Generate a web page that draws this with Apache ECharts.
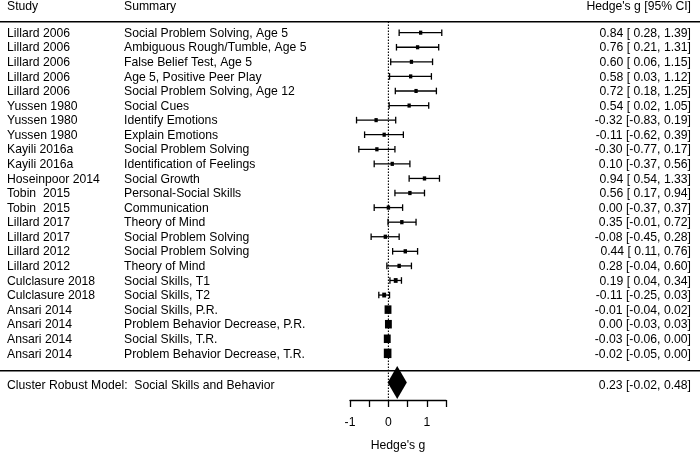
<!DOCTYPE html>
<html><head><meta charset="utf-8">
<script src="https://cdn.jsdelivr.net/npm/echarts@6/dist/echarts.min.js"></script>
<style>html,body{margin:0;padding:0;background:#fff}#c{width:700px;height:457px}</style>
</head><body><div id="c"></div>
<script>
const studies = ['Lillard 2006','Lillard 2006','Lillard 2006','Lillard 2006','Lillard 2006',
  'Yussen 1980','Yussen 1980','Yussen 1980','Kayili 2016a','Kayili 2016a','Hoseinpoor 2014',
  'Tobin  2015','Tobin  2015','Lillard 2017','Lillard 2017','Lillard 2012','Lillard 2012',
  'Culclasure 2018','Culclasure 2018','Ansari 2014','Ansari 2014','Ansari 2014','Ansari 2014'];
const outcomes = ['Social Problem Solving, Age 5','Ambiguous Rough/Tumble, Age 5','False Belief Test, Age 5',
  'Age 5, Positive Peer Play','Social Problem Solving, Age 12','Social Cues','Identify Emotions',
  'Explain Emotions','Social Problem Solving','Identification of Feelings','Social Growth',
  'Personal-Social Skills','Communication','Theory of Mind','Social Problem Solving',
  'Social Problem Solving','Theory of Mind','Social Skills, T1','Social Skills, T2',
  'Social Skills, P.R.','Problem Behavior Decrease, P.R.','Social Skills, T.R.','Problem Behavior Decrease, T.R.'];
const estimates = [0.84,0.76,0.60,0.58,0.72,0.54,-0.32,-0.11,-0.30,0.10,0.94,0.56,0.00,0.35,-0.08,0.44,0.28,0.19,-0.11,-0.01,0.00,-0.03,-0.02];
const lower = [0.28,0.21,0.06,0.03,0.18,0.02,-0.83,-0.62,-0.77,-0.37,0.54,0.17,-0.37,-0.01,-0.45,0.11,-0.04,0.04,-0.25,-0.04,-0.03,-0.06,-0.05];
const upper = [1.39,1.31,1.15,1.12,1.25,1.05,0.19,0.39,0.17,0.56,1.33,0.94,0.37,0.72,0.28,0.76,0.60,0.34,0.03,0.02,0.03,0.00,0.00];
const summaryLabel = 'Cluster Robust Model:  Social Skills and Behavior';
const summaryEstimate = [0.23];
const summaryLower = [-0.02];
const summaryUpper = [0.48];
const headers = ['Study', 'Summary', "Hedge's g [95% CI]"];
const axisTitle = "Hedge's g";

const FONT = "'Liberation Sans', Arial, Helvetica, sans-serif";
const TXT = {fontSize: 12.2, fontFamily: FONT, fill: '#000'};
function fmt(e, l, u) {
  return e.toFixed(2) + ' [' + (l < 0 ? '' : ' ') + l.toFixed(2) + ', ' + u.toFixed(2) + ']';
}
// point size from precision (as in metafor: 1/se, rescaled to 0.5..1.5)
const wi = lower.map((l, i) => 3.92 / Math.max(upper[i] - l, 0.01));
const wmin = Math.min(...wi), wmax = Math.max(...wi);
const psize = wi.map(w => 0.5 + (w - wmin) / (wmax - wmin));

const studyData = estimates.map((e, i) => [e, i + 1, lower[i], upper[i], psize[i], i]);
const SUMMARY_ROW = 25.13;

const chart = echarts.init(document.getElementById('c'), null, {renderer: 'canvas'});
chart.setOption({
  animation: false,
  backgroundColor: '#fff',
  grid: {left: 350, width: 96, top: 18.1, height: 387.2, containLabel: false},
  xAxis: {
    type: 'value', min: -1, max: 1.5, interval: 0.5,
    axisLine: {show: true, onZero: false, lineStyle: {color: '#000', width: 1.3}},
    axisTick: {show: true, length: 7, lineStyle: {color: '#000', width: 1.3}},
    splitLine: {show: false},
    axisLabel: {color: '#000', fontSize: 12.2, fontFamily: FONT, margin: 17,
      formatter: v => Number.isInteger(v) ? String(v) : ''},
    name: axisTitle, nameLocation: 'middle', nameGap: 40,
    nameTextStyle: {color: '#000', fontSize: 12.2, fontFamily: FONT}
  },
  yAxis: {type: 'value', inverse: true, min: 0, max: 26.2, show: false},
  graphic: [
    {type: 'line', shape: {x1: 0, y1: 21.7, x2: 700, y2: 21.7}, style: {stroke: '#000', lineWidth: 1.6}},
    {type: 'line', shape: {x1: 0, y1: 370.7, x2: 700, y2: 370.7}, style: {stroke: '#000', lineWidth: 1.6}},
    {type: 'text', style: Object.assign({text: headers[0], x: 7, y: 6.5, align: 'left', verticalAlign: 'middle'}, TXT)},
    {type: 'text', style: Object.assign({text: headers[1], x: 124, y: 6.5, align: 'left', verticalAlign: 'middle'}, TXT)},
    {type: 'text', style: Object.assign({text: headers[2], x: 691, y: 6.5, align: 'right', verticalAlign: 'middle'}, TXT)}
  ],
  series: [
    {
      type: 'custom', clip: false, silent: true,
      data: [[0, 0.24, 26.2]],
      renderItem: (params, api) => {
        const a = api.coord([api.value(0), api.value(1)]);
        const b = api.coord([api.value(0), api.value(2)]);
        return {type: 'line', shape: {x1: a[0], y1: a[1], x2: b[0], y2: b[1]},
          style: {stroke: '#000', lineWidth: 1.1, lineDash: [1.5, 1.5]}};
      }
    },
    {
      type: 'custom', clip: false, silent: true,
      data: studyData,
      renderItem: (params, api) => {
        const row = api.value(1);
        const p = api.coord([api.value(0), row]);
        const l = api.coord([api.value(2), row]);
        const u = api.coord([api.value(3), row]);
        const s = 1.13 + api.value(4) * 4.33;
        const i = api.value(5);
        const cap = 3.3;
        return {type: 'group', children: [
          {type: 'line', shape: {x1: l[0], y1: l[1], x2: u[0], y2: u[1]}, style: {stroke: '#000', lineWidth: 1.3}},
          {type: 'line', shape: {x1: l[0], y1: l[1] - cap, x2: l[0], y2: l[1] + cap}, style: {stroke: '#000', lineWidth: 1.3}},
          {type: 'line', shape: {x1: u[0], y1: u[1] - cap, x2: u[0], y2: u[1] + cap}, style: {stroke: '#000', lineWidth: 1.3}},
          {type: 'rect', shape: {x: p[0] - s / 2, y: p[1] - s * 0.62, width: s, height: s * 1.24}, style: {fill: '#000'}},
          {type: 'text', style: Object.assign({text: studies[i], x: 7, y: p[1] + 0.8, align: 'left', verticalAlign: 'middle'}, TXT)},
          {type: 'text', style: Object.assign({text: outcomes[i], x: 124, y: p[1] + 0.8, align: 'left', verticalAlign: 'middle'}, TXT)},
          {type: 'text', style: Object.assign({text: fmt(api.value(0), api.value(2), api.value(3)), x: 691, y: p[1] + 0.8, align: 'right', verticalAlign: 'middle'}, TXT)}
        ]};
      }
    },
    {
      type: 'custom', clip: false, silent: true,
      data: [[summaryEstimate[0], SUMMARY_ROW, summaryLower[0], summaryUpper[0]]],
      renderItem: (params, api) => {
        const row = api.value(1);
        const p = api.coord([api.value(0), row]);
        const l = api.coord([api.value(2), row]);
        const u = api.coord([api.value(3), row]);
        const h = 16.5;
        const cy = p[1] - 1.8;
        return {type: 'group', children: [
          {type: 'polygon', shape: {points: [[l[0], cy], [p[0], cy - h], [u[0], cy], [p[0], cy + h]]}, style: {fill: '#000'}},
          {type: 'text', style: Object.assign({text: summaryLabel, x: 7, y: p[1] + 1, align: 'left', verticalAlign: 'middle'}, TXT)},
          {type: 'text', style: Object.assign({text: fmt(api.value(0), api.value(2), api.value(3)), x: 691, y: p[1] + 1, align: 'right', verticalAlign: 'middle'}, TXT)}
        ]};
      }
    }
  ]
});
</script>
</body></html>
